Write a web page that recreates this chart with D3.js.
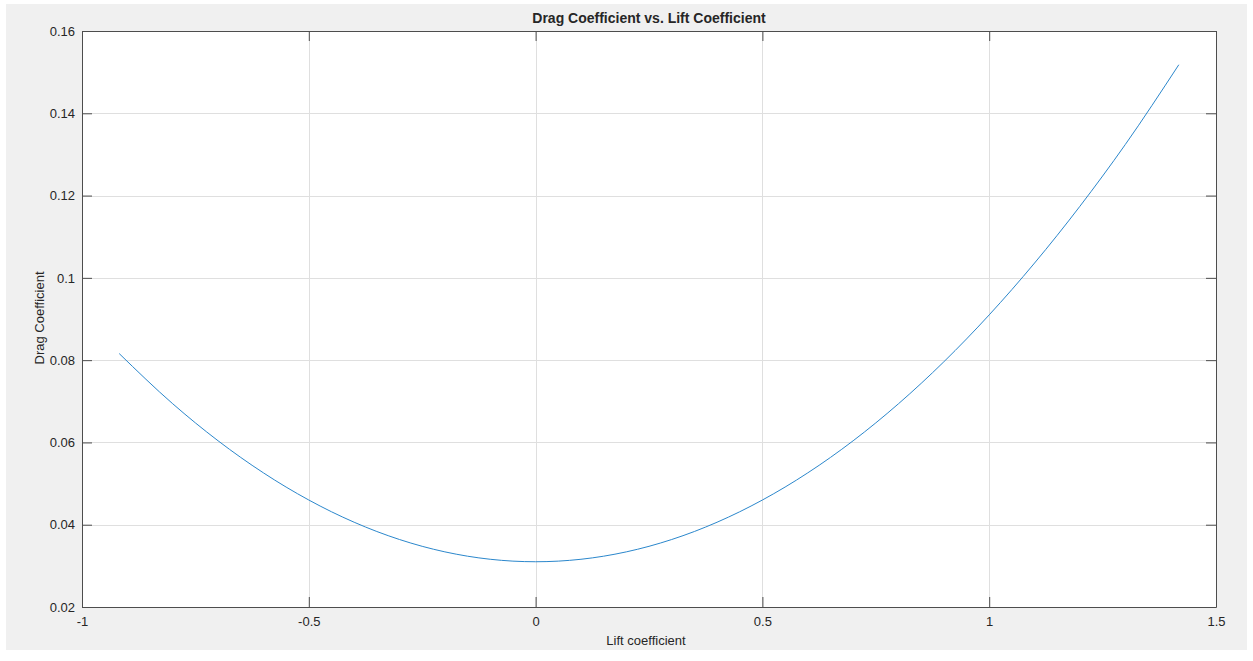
<!DOCTYPE html>
<html>
<head>
<meta charset="utf-8">
<script src="https://cdn.jsdelivr.net/npm/d3@7"></script>
<style>
  body { margin: 0; background: #ffffff; }
  text { font-family: "Liberation Sans", Arial, sans-serif; fill: #262626; }
</style>
</head>
<body>
<script>
var width = 1253;
var height = 661;

// values
var liftCoef = [-0.918, -0.8, -0.7, -0.6, -0.5, -0.4, -0.3, -0.2, -0.1, 0, 0.1, 0.2, 0.3, 0.4, 0.5, 0.6, 0.7, 0.8, 0.9, 1.0, 1.1, 1.2, 1.3, 1.418];
var dragCoef = [0.0816, 0.0694, 0.0604, 0.0526, 0.0460, 0.0406, 0.0364, 0.0334, 0.0316, 0.0310, 0.0316, 0.0334, 0.0364, 0.0406, 0.0460, 0.0526, 0.0604, 0.0694, 0.0796, 0.0910, 0.1036, 0.1174, 0.1324, 0.1518];
var xTicks = [-1, -0.5, 0, 0.5, 1, 1.5];
var yTicks = [0.02, 0.04, 0.06, 0.08, 0.1, 0.12, 0.14, 0.16];

var svg = d3.select("body")
            .append("svg")
            .attr("width", width)
            .attr("height", height);

// figure background
svg.append("rect")
   .attr("x", 6).attr("y", 4)
   .attr("width", 1241).attr("height", 646)
   .attr("fill", "#f0f0f0");

var plotLeft = 82, plotTop = 31, plotRight = 1216, plotBottom = 607;

var x = d3.scaleLinear().domain([-1, 1.5]).range([plotLeft, plotRight]);
var y = d3.scaleLinear().domain([0.02, 0.16]).range([plotBottom, plotTop]);

svg.append("rect")
   .attr("x", plotLeft).attr("y", plotTop)
   .attr("width", plotRight - plotLeft).attr("height", plotBottom - plotTop)
   .attr("fill", "#ffffff");

// grid
var grid = svg.append("g");
grid.selectAll(".gx")
    .data(xTicks.slice(1, -1))
    .enter().append("line")
    .attr("x1", function (d) { return Math.round(x(d)) + 0.5; })
    .attr("x2", function (d) { return Math.round(x(d)) + 0.5; })
    .attr("y1", plotTop).attr("y2", plotBottom)
    .attr("stroke", "#dfdfdf");
grid.selectAll(".gy")
    .data(yTicks.slice(1, -1))
    .enter().append("line")
    .attr("y1", function (d) { return Math.round(y(d)) + 0.5; })
    .attr("y2", function (d) { return Math.round(y(d)) + 0.5; })
    .attr("x1", plotLeft).attr("x2", plotRight)
    .attr("stroke", "#dfdfdf");

// the curve
var pts = liftCoef.map(function (d, i) { return [d, dragCoef[i]]; });
var line = d3.line()
             .x(function (d) { return x(d[0]); })
             .y(function (d) { return y(d[1]); })
             .curve(d3.curveMonotoneX);
svg.append("path")
   .datum(pts)
   .attr("d", line)
   .attr("fill", "none")
   .attr("stroke", "#2b87cc")
   .attr("stroke-width", 1);

// axes, ticks point inward
var tickLen = 10;
var fmt = function (d) { return String(d); };
var xAxis = d3.axisBottom(x).tickValues(xTicks).tickSizeInner(-tickLen).tickSizeOuter(0).tickPadding(10).tickFormat(fmt);
var yAxis = d3.axisLeft(y).tickValues(yTicks).tickSizeInner(-tickLen).tickSizeOuter(0).tickPadding(7).tickFormat(fmt);

svg.append("g").attr("transform", "translate(0," + plotBottom + ")").call(xAxis);
svg.append("g").attr("transform", "translate(" + plotLeft + ",0)").call(yAxis);
svg.append("g").attr("transform", "translate(0," + plotTop + ")")
   .call(d3.axisTop(x).tickValues(xTicks).tickSizeInner(-tickLen).tickSizeOuter(0).tickFormat(""));
svg.append("g").attr("transform", "translate(" + plotRight + ",0)")
   .call(d3.axisRight(y).tickValues(yTicks).tickSizeInner(-tickLen).tickSizeOuter(0).tickFormat(""));

svg.selectAll(".domain").attr("stroke", "#4d4d4d");
svg.selectAll(".tick line").attr("stroke", "#4d4d4d");
svg.selectAll(".tick text")
   .style("font-family", "'Liberation Sans', Arial, sans-serif")
   .style("font-size", "13px")
   .attr("fill", "#262626");

// titles
svg.append("text")
   .attr("x", 649).attr("y", 23)
   .attr("text-anchor", "middle")
   .style("font-size", "14px")
   .style("font-weight", "bold")
   .text("Drag Coefficient vs. Lift Coefficient");

svg.append("text")
   .attr("x", 646).attr("y", 645)
   .attr("text-anchor", "middle")
   .style("font-size", "13px")
   .text("Lift coefficient");

svg.append("text")
   .attr("transform", "translate(44,318) rotate(-90)")
   .attr("text-anchor", "middle")
   .style("font-size", "13px")
   .text("Drag Coefficient");
</script>
</body>
</html>
